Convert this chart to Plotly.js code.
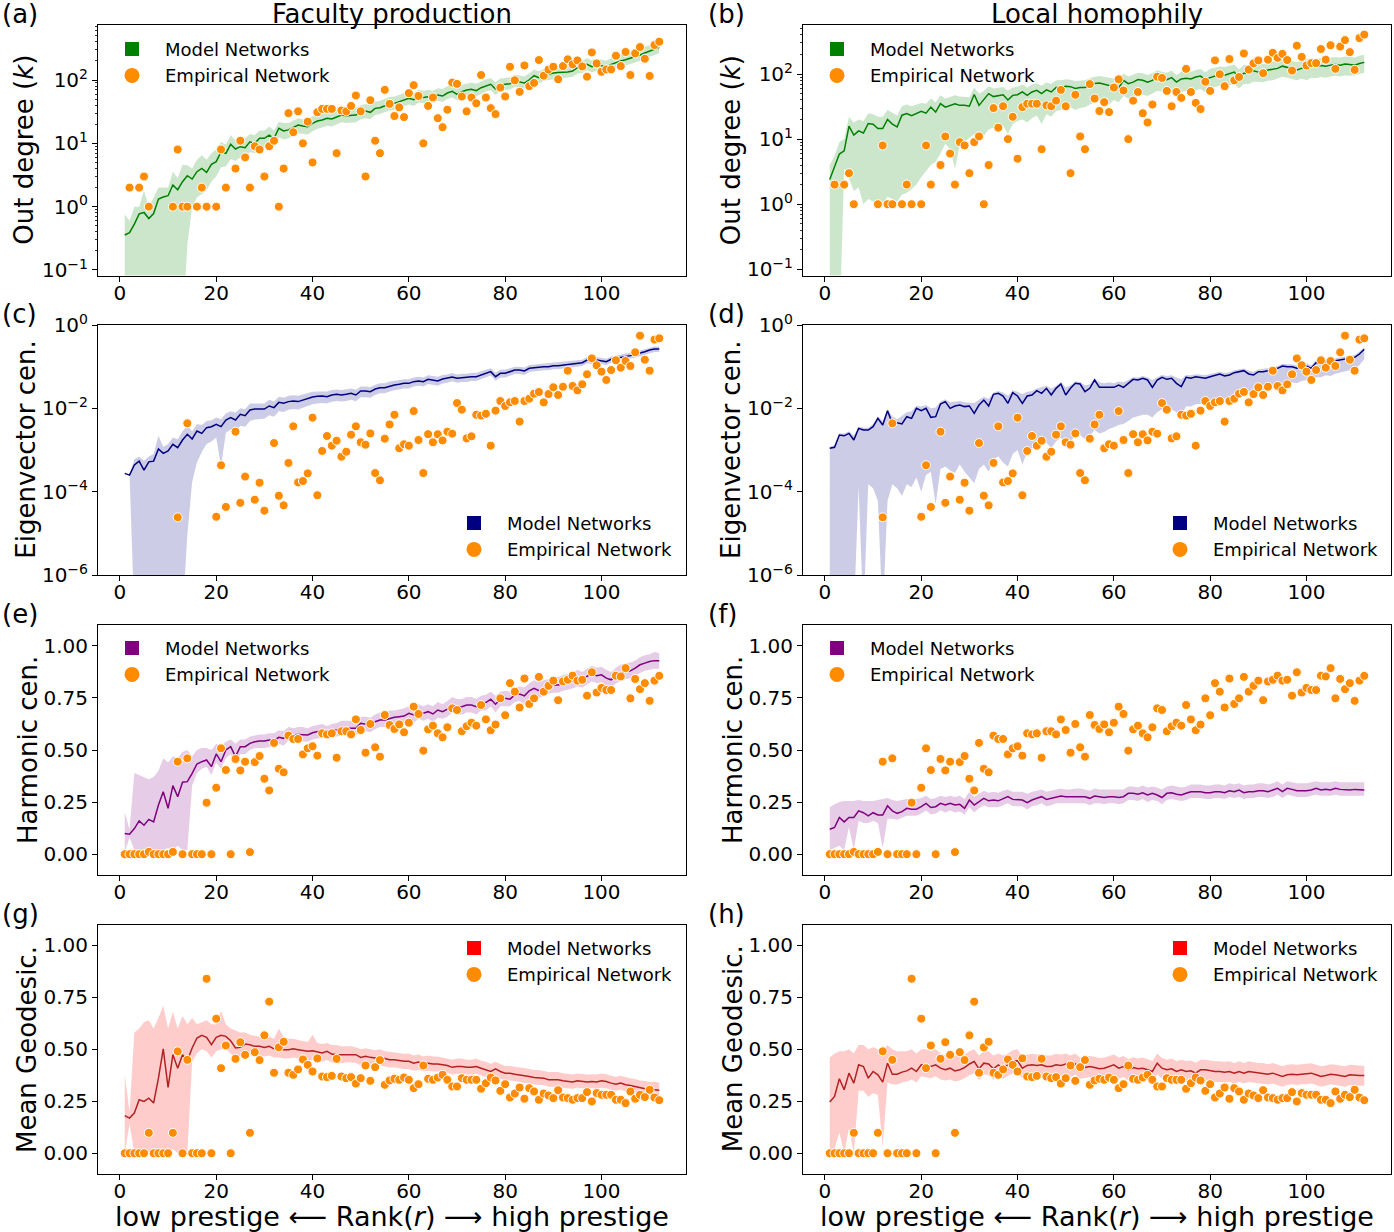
<!DOCTYPE html>
<html><head><meta charset="utf-8">
<script src="https://cdn.plot.ly/plotly-3.0.1.min.js"></script>
<style>html,body{margin:0;padding:0;background:#fff}#chart{width:1394px;height:1232px}</style>
</head><body><div id="chart"></div>
<script>
// ---------- categories ----------
const rank = [];
for (let r = 1; r <= 112; r++) rank.push(r);
const xTickVals = [0, 20, 40, 60, 80, 100];
const xTickText = ['0', '20', '40', '60', '80', '100'];

// ---------- empirical network (same in both columns) ----------
const outDegEmp = [null,2,null,2,3,1,null,null,null,null,
 1,8,1,1,null,1,2,1,null,1,
 8,2,null,4,11,6,2,9,8,3,
 9,11,1,4,30,15,32,10,22,5,
 31,35,35,35,7,33,32,39,57,32,
 3,48,11,7,70,42,27,37,26,62,
 83,56,10,39,53,25,18,34,91,87,
 55,32,53,43,120,53,36,29,76,55,
 162,99,65,170,80,90,207,117,146,162,
 103,166,212,177,204,164,113,273,183,135,
 147,147,242,166,277,120,264,332,217,116,
 357,403];
const eigEmp = [null,null,null,null,null,null,null,null,null,null,
 null,2.42e-5,null,4.37e-3,null,null,null,null,null,2.5e-5,
 4.3e-4,4.3e-5,null,2.75e-3,5.4e-5,2.3e-4,null,6.4e-5,1.64e-4,3.5e-5,
 null,1.47e-3,8.0e-5,4.7e-5,4.9e-4,3.7e-3,1.67e-4,1.8e-4,2.75e-4,5.97e-3,
 8.2e-5,9.5e-4,2.17e-3,1.27e-3,1.67e-3,6.9e-4,9.1e-4,2.33e-3,3.7e-3,1.53e-3,
 1.34e-3,2.5e-3,2.8e-4,1.87e-4,1.87e-3,4.1e-3,7.0e-3,1.1e-3,1.37e-3,1.27e-3,
 8.6e-3,1.74e-3,2.8e-4,2.4e-3,1.53e-3,2.38e-3,1.7e-3,2.75e-3,2.47e-3,1.34e-2,
 9.3e-3,1.9e-3,2.13e-3,7.0e-3,6.7e-3,7.4e-3,1.27e-3,8.8e-3,1.5e-2,1.14e-2,
 1.39e-2,1.5e-2,4.8e-3,1.5e-2,1.7e-2,2.25e-2,2.47e-2,1.39e-2,2.2e-2,3.2e-2,
 2.09e-2,3.3e-2,8.0e-2,3.44e-2,2.7e-2,3.77e-2,6.55e-2,0.158,0.108,0.076,
 0.048,0.083,0.142,0.0946,0.137,0.104,0.221,0.555,0.147,0.080,
 0.445,0.479];
const harmEmp = [0,0,0,0,0,0.011,0,0,0,0,
 0.011,0.444,0,0.46,0,0,0,0.247,0,0.319,
 0.508,0.404,0,0.457,0.402,0.444,0.01,0.442,0.471,0.362,
 0.306,0.534,0.41,0.393,0.569,0.553,0.553,0.479,0.508,0.518,
 0.473,0.58,0.575,0.58,0.463,0.59,0.59,0.575,0.647,0.596,
 0.487,0.625,0.513,0.468,0.668,0.62,0.601,0.623,0.585,0.631,
 0.708,0.673,0.497,0.599,0.617,0.58,0.561,0.609,0.7,0.692,
 0.59,0.614,0.631,0.617,0.716,0.647,0.595,0.622,0.748,0.667,
 0.821,0.78,0.704,0.843,0.721,0.748,0.851,0.78,0.808,0.833,
 0.739,0.829,0.837,0.857,0.833,0.837,0.761,0.873,0.776,0.798,
 0.788,0.788,0.857,0.853,0.893,0.748,0.841,0.792,0.821,0.736,
 0.833,0.856];
const geoEmp = [0,0,0,0,0,0.098,0,0,0,0,
 0.098,0.49,0,0.449,0,0,0,0.839,0,0.647,
 0.409,0.518,0,0.454,0.534,0.473,0.098,0.486,0.448,0.567,
 0.729,0.387,0.509,0.536,0.387,0.377,0.403,0.451,0.425,0.393,
 0.456,0.369,0.366,0.372,0.454,0.369,0.361,0.366,0.335,0.361,
 0.422,0.348,0.414,0.448,0.329,0.35,0.358,0.353,0.364,0.353,
 0.313,0.332,0.422,0.358,0.353,0.364,0.377,0.353,0.321,0.321,
 0.361,0.353,0.353,0.353,0.31,0.337,0.364,0.35,0.3,0.332,
 0.268,0.287,0.316,0.262,0.313,0.297,0.257,0.287,0.278,0.265,
 0.303,0.268,0.265,0.257,0.265,0.265,0.294,0.249,0.289,0.281,
 0.281,0.281,0.257,0.257,0.241,0.297,0.262,0.281,0.27,0.305,
 0.268,0.255];

// ---------- model networks: faculty production (left column) ----------
const odFacMean = [0.357,0.39,0.53,0.77,0.81,0.65,0.78,1.32,1.42,1.49,
 2.2,1.85,2.48,3.08,2.73,3.57,4.03,3.48,4.66,5.14,
 7.39,6.95,9.65,8.14,8.86,8.55,10.6,10.0,12.0,12.0,
 13.5,12.0,17.3,15.7,16.3,17.7,19.5,18.8,18.3,20.7,
 22.5,23.4,24.8,24.2,26.4,28.0,27.3,27.3,28.0,30.9,
 32.4,30.9,35.7,36.6,39.4,41.8,42.8,45.5,48.3,51.4,
 48.9,54.6,53.2,54.6,53.2,58.0,55.9,62.3,66.2,59.4,
 65.4,69.5,71.3,67.9,75.7,81.4,85.5,72.1,83.4,85.5,
 87.5,96.4,94.2,89.7,101,117,109,120,123,129,
 131,132,134,139,157,160,177,162,173,168,
 160,177,190,200,209,220,234,248,267,287,
 313,328];
const odFacHi = [0.75,0.6,1.0,1.0,1.8,1.0,1.4,2.0,2.0,2.0,
 3.6,2.8,4.6,4.5,4.0,5.5,6.5,5.5,7.0,8.0,
 10.5,9.5,13.5,11,12.5,12,14,13.5,16,16,
 18.5,16,22,21,21,23,25,24,24,27,
 29,30,32,31,34,36,35,35,36,40,
 42,40,46,47,50,54,55,58,62,66,
 63,70,68,70,68,74,72,80,84,76,
 84,88,91,87,96,103,108,92,106,108,
 111,122,119,114,128,147,137,151,155,162,
 165,166,169,175,197,201,222,204,217,211,
 201,222,238,251,262,276,293,311,335,360,
 390,410];
const odFacLo = [0.01,0.01,0.01,0.01,0.01,0.01,0.01,0.01,0.01,0.01,
 0.01,0.01,0.01,0.25,1.0,1.4,1.6,1.8,2.5,3.0,
 4.2,4.3,5.6,5.3,6.0,5.8,7.3,7.0,8.5,8.6,
 9.6,8.6,12.5,11.5,12.0,13.0,14.5,14.0,13.8,15.5,
 17,17.8,19,18.5,20,21.5,21,21,21.5,24,
 25,24,28,29,31,33,34,36,38.5,41,
 39,44,43,44,43,47,45,50,53,48,
 53,56,58,55,61,66,69,58,68,69,
 71,78,76,73,82,95,88,97,100,104,
 106,107,109,113,127,129,143,131,140,136,
 130,143,154,162,169,178,189,200,216,232,
 252,265];
const eigFacMean = [2.75e-4,2.5e-4,4.4e-4,5.4e-4,3.3e-4,5.2e-4,5.4e-4,1.06e-3,8.3e-4,9.5e-4,
 1.37e-3,1.14e-3,1.74e-3,2.38e-3,1.84e-3,2.86e-3,2.5e-3,3.44e-3,3.63e-3,4.13e-3,
 3.63e-3,5.25e-3,5.97e-3,5.25e-3,7.18e-3,6.67e-3,9.1e-3,9.6e-3,9.6e-3,9.6e-3,
 0.0114,0.0104,0.0139,0.0132,0.0145,0.015,0.0145,0.0158,0.0174,0.0187,
 0.0194,0.0198,0.0191,0.0209,0.0217,0.0209,0.0217,0.0229,0.0209,0.026,
 0.026,0.0251,0.0291,0.0313,0.0313,0.0344,0.0363,0.0377,0.0398,0.0398,
 0.0437,0.0453,0.0437,0.0497,0.0479,0.0453,0.0506,0.0525,0.0565,0.0525,
 0.0545,0.0545,0.0575,0.0575,0.063,0.0692,0.0759,0.0575,0.0692,0.0692,
 0.0759,0.0832,0.0832,0.0787,0.0912,0.0946,0.0946,0.1,0.1,0.1057,
 0.1057,0.1096,0.1117,0.1138,0.1202,0.1247,0.1445,0.1368,0.1445,0.1368,
 0.1318,0.15,0.158,0.164,0.171,0.184,0.198,0.209,0.229,0.251,
 0.265,0.265];
const eigFacHi = [2.75e-4,2.5e-4,6e-4,7e-4,5.5e-4,7e-4,8e-4,2.2e-3,1.2e-3,1.4e-3,
 2e-3,1.8e-3,2.8e-3,3.8e-3,2.8e-3,4.2e-3,4e-3,5e-3,5.2e-3,6e-3,
 5.5e-3,7.5e-3,8.5e-3,7.8e-3,1.0e-2,9.5e-3,1.3e-2,1.3e-2,1.35e-2,1.3e-2,
 0.016,0.0145,0.019,0.018,0.02,0.0205,0.02,0.0215,0.024,0.025,
 0.0255,0.026,0.0255,0.0275,0.0285,0.0275,0.0285,0.03,0.028,0.0335,
 0.0335,0.0325,0.037,0.04,0.04,0.044,0.046,0.048,0.05,0.05,
 0.055,0.057,0.055,0.062,0.06,0.057,0.063,0.065,0.07,0.065,
 0.068,0.068,0.071,0.071,0.078,0.085,0.092,0.071,0.085,0.085,
 0.092,0.1,0.1,0.095,0.11,0.113,0.113,0.119,0.119,0.126,
 0.126,0.13,0.132,0.135,0.142,0.147,0.17,0.161,0.17,0.161,
 0.155,0.176,0.185,0.192,0.2,0.215,0.23,0.243,0.265,0.29,
 0.305,0.305];
const eigFacLo = [2.75e-4,2.5e-4,1e-7,1e-7,1e-7,1e-7,1e-7,1e-7,1e-7,1e-7,
 1e-7,1e-7,1e-7,9e-6,1.7e-4,5e-4,9e-4,1.4e-3,1.6e-3,2e-3,
 4e-4,2.6e-3,3.1e-3,2.8e-3,3.8e-3,3.6e-3,5e-3,5.4e-3,5.4e-3,5.6e-3,
 6.8e-3,6.3e-3,8.5e-3,8.2e-3,9.3e-3,9.6e-3,9.4e-3,1.04e-2,1.15e-2,1.25e-2,
 0.013,0.0135,0.013,0.0143,0.015,0.0145,0.015,0.016,0.0147,0.0185,
 0.0185,0.018,0.021,0.023,0.023,0.0255,0.027,0.0285,0.03,0.03,
 0.0335,0.035,0.0335,0.0385,0.037,0.035,0.0395,0.041,0.0445,0.041,
 0.043,0.043,0.0455,0.0455,0.05,0.055,0.061,0.046,0.055,0.055,
 0.061,0.067,0.067,0.063,0.074,0.077,0.077,0.082,0.082,0.087,
 0.087,0.09,0.092,0.094,0.1,0.104,0.121,0.114,0.121,0.114,
 0.11,0.126,0.133,0.138,0.144,0.155,0.167,0.177,0.194,0.213,
 0.225,0.225];
const harmFacMean = [0.099,0.096,0.123,0.16,0.139,0.167,0.155,0.236,0.3,0.22,
 0.329,0.276,0.345,0.348,0.388,0.433,0.444,0.452,0.42,0.481,
 0.444,0.5,0.516,0.468,0.516,0.516,0.532,0.54,0.543,0.543,
 0.548,0.545,0.561,0.556,0.577,0.572,0.575,0.575,0.572,0.583,
 0.588,0.593,0.583,0.593,0.596,0.604,0.604,0.604,0.604,0.628,
 0.625,0.62,0.636,0.644,0.644,0.652,0.657,0.66,0.663,0.676,
 0.668,0.684,0.676,0.684,0.673,0.692,0.684,0.696,0.716,0.705,
 0.708,0.716,0.716,0.708,0.724,0.728,0.744,0.72,0.744,0.748,
 0.744,0.764,0.769,0.76,0.784,0.796,0.785,0.796,0.804,0.8125,
 0.8125,0.82,0.824,0.832,0.845,0.837,0.853,0.869,0.856,0.861,
 0.845,0.837,0.856,0.869,0.877,0.88,0.893,0.909,0.917,0.925,
 0.929,0.928];
const harmFacHi = [0.2,0.12,0.39,0.38,0.37,0.36,0.37,0.4,0.46,0.44,
 0.47,0.46,0.49,0.5,0.47,0.5,0.51,0.51,0.5,0.53,
 0.52,0.54,0.55,0.53,0.55,0.55,0.565,0.57,0.575,0.575,
 0.58,0.58,0.595,0.59,0.61,0.605,0.61,0.61,0.605,0.615,
 0.62,0.625,0.615,0.625,0.63,0.64,0.64,0.64,0.64,0.66,
 0.66,0.655,0.67,0.68,0.68,0.69,0.69,0.695,0.7,0.71,
 0.705,0.72,0.71,0.72,0.71,0.73,0.72,0.735,0.755,0.745,
 0.745,0.755,0.755,0.745,0.76,0.765,0.78,0.76,0.78,0.785,
 0.78,0.8,0.805,0.8,0.82,0.835,0.825,0.835,0.84,0.85,
 0.85,0.86,0.865,0.87,0.885,0.875,0.89,0.905,0.895,0.9,
 0.885,0.875,0.895,0.91,0.915,0.92,0.93,0.945,0.955,0.96,
 0.97,0.965];
const harmFacLo = [0.01,0.08,0.02,0.02,0.02,0.02,0.02,0.02,0.02,0.03,
 0.02,0.04,0.02,0.02,0.33,0.39,0.41,0.42,0.38,0.44,
 0.41,0.46,0.48,0.43,0.48,0.48,0.5,0.51,0.51,0.51,
 0.515,0.51,0.53,0.52,0.545,0.54,0.54,0.54,0.54,0.55,
 0.555,0.56,0.55,0.56,0.565,0.57,0.57,0.57,0.57,0.595,
 0.59,0.585,0.6,0.61,0.61,0.615,0.62,0.625,0.63,0.64,
 0.63,0.65,0.64,0.65,0.635,0.655,0.65,0.66,0.68,0.67,
 0.67,0.68,0.68,0.67,0.69,0.69,0.71,0.68,0.71,0.71,
 0.71,0.73,0.735,0.72,0.75,0.76,0.75,0.76,0.77,0.775,
 0.775,0.785,0.79,0.795,0.805,0.8,0.815,0.83,0.82,0.825,
 0.81,0.8,0.82,0.83,0.84,0.845,0.855,0.87,0.88,0.885,
 0.89,0.89];
const geoFacMean = [0.181,0.169,0.193,0.257,0.249,0.265,0.241,0.361,0.502,0.316,
 0.474,0.409,0.474,0.445,0.506,0.554,0.567,0.557,0.522,0.557,
 0.567,0.562,0.541,0.506,0.509,0.525,0.522,0.514,0.514,0.509,
 0.514,0.502,0.506,0.498,0.498,0.502,0.498,0.493,0.49,0.493,
 0.486,0.482,0.49,0.477,0.474,0.474,0.477,0.477,0.474,0.461,
 0.466,0.461,0.458,0.461,0.454,0.45,0.45,0.445,0.442,0.442,
 0.433,0.438,0.429,0.433,0.429,0.429,0.425,0.422,0.413,0.417,
 0.417,0.413,0.413,0.417,0.409,0.401,0.393,0.406,0.393,0.385,
 0.385,0.38,0.377,0.374,0.369,0.364,0.364,0.361,0.353,0.353,
 0.353,0.348,0.345,0.342,0.348,0.345,0.342,0.345,0.342,0.348,
 0.345,0.337,0.332,0.337,0.329,0.326,0.321,0.313,0.31,0.305,
 0.305,0.303];
const geoFacHi = [0.38,0.2,0.58,0.6,0.63,0.64,0.6,0.65,0.71,0.6,
 0.68,0.6,0.66,0.62,0.65,0.62,0.63,0.64,0.62,0.62,
 0.685,0.62,0.6,0.59,0.58,0.58,0.57,0.565,0.56,0.555,
 0.56,0.55,0.6,0.56,0.55,0.55,0.545,0.54,0.535,0.57,
 0.53,0.525,0.53,0.52,0.52,0.515,0.515,0.515,0.51,0.5,
 0.505,0.5,0.495,0.5,0.49,0.488,0.485,0.48,0.478,0.48,
 0.47,0.475,0.465,0.47,0.465,0.465,0.46,0.458,0.45,0.455,
 0.455,0.45,0.45,0.455,0.445,0.44,0.43,0.44,0.43,0.42,
 0.42,0.415,0.412,0.41,0.405,0.4,0.4,0.395,0.39,0.39,
 0.39,0.385,0.38,0.378,0.383,0.38,0.378,0.38,0.378,0.383,
 0.38,0.372,0.368,0.372,0.365,0.36,0.357,0.35,0.347,0.342,
 0.342,0.34];
const geoFacLo = [0,0.14,0,0,0,0,0,0,0,0,
 0.02,0,0,0,0.44,0.48,0.5,0.49,0.46,0.49,
 0.5,0.5,0.48,0.46,0.465,0.48,0.475,0.47,0.47,0.465,
 0.47,0.46,0.46,0.455,0.455,0.46,0.455,0.45,0.447,0.45,
 0.444,0.44,0.448,0.436,0.433,0.433,0.437,0.437,0.434,0.422,
 0.428,0.422,0.42,0.422,0.416,0.412,0.412,0.408,0.405,0.405,
 0.396,0.402,0.393,0.397,0.393,0.393,0.39,0.387,0.378,0.382,
 0.382,0.378,0.378,0.382,0.374,0.366,0.358,0.372,0.358,0.35,
 0.35,0.346,0.343,0.34,0.335,0.33,0.33,0.327,0.32,0.32,
 0.32,0.315,0.312,0.31,0.315,0.312,0.31,0.312,0.31,0.315,
 0.312,0.305,0.3,0.305,0.297,0.294,0.29,0.283,0.28,0.275,
 0.275,0.273];

// ---------- model networks: local homophily (right column) ----------
const odHomMean = [2.4,3.7,5.9,6.6,15.8,11.5,13.4,12.4,17.4,16.9,
 14.5,14.5,20,17,15.4,23.3,24.7,23,24.7,26.8,
 25,31,26,35.2,31,33,35,33,33,32,
 48.4,33,40.6,50,45,47,48,40,47,48,
 53,47,53,56,50,57,53,62,62,65,
 64,60,62,62,67,71.5,73,70,66,65,
 61,80,71,75,82,80,75,80,90,85,
 82,88,75,84,86,84,90,93,82,88,
 93,98,96,102,107,88,103,103,112,107,
 107,115,117,122,132,126,122,115,122,129,
 132,129,135,132,137,140,137,142,140,137,
 145,151];
const odHomHi = [4.0,5.5,9,10,22,18,20,19,25,24,
 22,22,28,25,23,32,34,32,34,36,
 35,42,37,47,42,45,47,45,45,44,
 62,50,55,65,60,62,63,56,62,64,
 69,62,69,72,66,74,70,80,80,83,
 82,78,80,80,86,91,93,90,86,85,
 80,102,92,97,105,103,97,103,114,108,
 105,113,97,108,110,108,115,119,106,120,
 125,131,128,135,140,118,137,136,147,141,
 142,150,153,160,172,165,160,152,162,170,
 173,170,177,173,180,183,180,186,183,180,
 190,198];
const odHomLo = [0.01,0.01,0.01,3.5,2.5,1.6,1.8,1.0,1.2,1.1,
 0.9,1.0,1.3,1.2,1.1,1.4,1.5,1.7,2.0,2.6,
 3.2,4.0,4.5,6.0,8.5,7,3.5,8,9,10.5,
 12,9,11,14,15,15,16,12,17,19,
 20,18,21,23,17,24,22,27,28,32,
 31,28,30,31,34,37,38,36,34,40,
 37,46,42,45,49,48,46,50,55,54,
 51,55,47,53,55,54,57,59,52,60,
 63,66,64,68,71,60,70,70,76,76,
 75,79,80,85,91,88,85,80,85,80,
 88,86,90,88,92,94,92,95,94,95,
 100,105];
const eigHomMean = [1.1e-3,1.16e-3,2.29e-3,2.19e-3,2.51e-3,1.74e-3,3.31e-3,3.02e-3,3.02e-3,3.63e-3,
 5.75e-3,3.98e-3,8.79e-3,4.37e-3,4.53e-3,4.21e-3,6.31e-3,5.75e-3,1.0e-2,8.79e-3,
 1.0e-2,6.08e-3,6.31e-3,1.27e-2,1.45e-2,1.0e-2,1.14e-2,1.2e-2,1.1e-2,1.14e-2,
 7.59e-3,1.2e-2,1.58e-2,1.14e-2,2.17e-2,2.29e-2,1.98e-2,1.32e-2,2.38e-2,1.98e-2,
 1.32e-2,1.98e-2,2.09e-2,2.65e-2,2.29e-2,3.02e-2,2.09e-2,3.02e-2,3.84e-2,2.09e-2,
 3.02e-2,3.98e-2,3.84e-2,2.51e-2,3.02e-2,4.79e-2,3.19e-2,3.19e-2,3.31e-2,3.19e-2,
 3.63e-2,3.19e-2,3.98e-2,4.97e-2,4.79e-2,5.25e-2,4.79e-2,3.19e-2,4.79e-2,5.55e-2,
 4.97e-2,5.25e-2,3.98e-2,3.31e-2,5.55e-2,5.25e-2,5.75e-2,5.55e-2,5.25e-2,5.75e-2,
 6.31e-2,6.67e-2,5.97e-2,6.31e-2,7.18e-2,7.59e-2,8.02e-2,6.67e-2,6.31e-2,7.59e-2,
 7.59e-2,8.02e-2,8.32e-2,9.12e-2,0.104,0.1,0.1,9.12e-2,0.1,0.104,
 9.12e-2,0.125,0.12,0.132,0.125,0.139,0.145,0.15,0.158,0.167,
 0.201,0.261];
const eigHomHi = [1.2e-3,1.3e-3,2.5e-3,2.5e-3,2.8e-3,2.2e-3,3.6e-3,3.4e-3,3.4e-3,4.2e-3,
 6.5e-3,5.0e-3,9.5e-3,6.5e-3,5.5e-3,6.5e-3,8.0e-3,8.5e-3,1.15e-2,1.1e-2,
 1.2e-2,1.0e-2,1.05e-2,1.45e-2,1.65e-2,1.4e-2,1.45e-2,1.5e-2,1.4e-2,1.4e-2,
 1.35e-2,1.6e-2,1.9e-2,1.7e-2,2.4e-2,2.6e-2,2.4e-2,2.0e-2,2.7e-2,2.5e-2,
 2.2e-2,2.5e-2,2.6e-2,3.0e-2,3.2e-2,3.5e-2,3.0e-2,3.5e-2,4.3e-2,3.2e-2,
 3.6e-2,4.4e-2,4.3e-2,3.6e-2,3.8e-2,5.3e-2,4.2e-2,4.0e-2,4.2e-2,4.0e-2,
 4.4e-2,4.2e-2,4.8e-2,5.6e-2,5.5e-2,6.0e-2,5.6e-2,4.8e-2,5.6e-2,6.3e-2,
 6.0e-2,6.2e-2,5.5e-2,5.0e-2,6.3e-2,6.2e-2,6.6e-2,6.5e-2,6.3e-2,6.7e-2,
 7.2e-2,7.6e-2,7.0e-2,7.3e-2,8.2e-2,8.6e-2,9.0e-2,8.0e-2,7.6e-2,8.6e-2,
 8.8e-2,9.2e-2,9.6e-2,0.104,0.117,0.114,0.114,0.106,0.115,0.12,
 0.108,0.142,0.137,0.15,0.143,0.158,0.165,0.172,0.18,0.19,
 0.23,0.29];
const eigHomLo = [1e-7,1e-7,1e-7,1e-7,1e-7,1e-7,1.3e-4,1e-7,1.5e-4,1.2e-4,
 6e-5,1e-7,6e-5,1.5e-4,1.2e-4,8e-5,1.5e-4,1.3e-4,2.2e-4,1.0e-4,
 2.5e-4,3.0e-4,5e-5,3.5e-4,4.0e-4,3.2e-4,2.8e-4,4.5e-4,3.0e-4,2.2e-4,
 1.6e-4,3.5e-4,4.5e-4,3.0e-4,6e-4,7e-4,5e-4,4e-4,8e-4,1.0e-3,
 4.5e-4,9e-4,1.1e-3,1.3e-3,1.4e-3,1.5e-3,1.1e-3,1.6e-3,2.0e-3,1.3e-3,
 1.6e-3,2.2e-3,2.3e-3,1.8e-3,2.2e-3,3.0e-3,2.5e-3,2.7e-3,3.2e-3,3.5e-3,
 4.0e-3,4.2e-3,5.0e-3,6.0e-3,6.5e-3,7.0e-3,7.0e-3,6.0e-3,8.0e-3,9.5e-3,
 9.0e-3,9.5e-3,8.0e-3,7.0e-3,1.1e-2,1.1e-2,1.25e-2,1.3e-2,1.3e-2,1.5e-2,
 1.65e-2,1.8e-2,1.7e-2,1.9e-2,2.1e-2,2.3e-2,2.5e-2,2.2e-2,2.2e-2,2.5e-2,
 2.6e-2,2.8e-2,3.0e-2,3.3e-2,3.8e-2,4.0e-2,4.2e-2,4.0e-2,4.5e-2,4.8e-2,
 4.4e-2,5.6e-2,5.6e-2,6.2e-2,6.0e-2,6.8e-2,7.2e-2,7.6e-2,8.2e-2,8.8e-2,
 0.11,0.15];
const harmHomMean = [0.12,0.128,0.176,0.155,0.176,0.176,0.208,0.199,0.184,0.199,
 0.188,0.188,0.232,0.208,0.196,0.204,0.22,0.216,0.216,0.228,
 0.244,0.224,0.228,0.244,0.236,0.244,0.236,0.239,0.22,0.26,
 0.236,0.252,0.268,0.256,0.26,0.256,0.268,0.276,0.263,0.263,
 0.26,0.247,0.26,0.268,0.276,0.263,0.268,0.276,0.279,0.276,
 0.276,0.279,0.279,0.276,0.268,0.279,0.276,0.272,0.276,0.276,
 0.272,0.276,0.292,0.292,0.288,0.295,0.284,0.292,0.284,0.272,
 0.292,0.295,0.288,0.284,0.292,0.3,0.3,0.3,0.295,0.295,
 0.3,0.3,0.295,0.304,0.3,0.308,0.295,0.3,0.3,0.304,
 0.304,0.3,0.308,0.316,0.3,0.316,0.311,0.304,0.304,0.304,
 0.308,0.316,0.308,0.311,0.308,0.316,0.311,0.308,0.308,0.311,
 0.308,0.308];
const harmHomHi = [0.225,0.24,0.25,0.255,0.255,0.255,0.26,0.255,0.255,0.255,
 0.26,0.265,0.27,0.26,0.255,0.26,0.265,0.265,0.265,0.27,
 0.28,0.265,0.27,0.28,0.275,0.28,0.275,0.28,0.265,0.3,
 0.275,0.29,0.305,0.295,0.3,0.295,0.305,0.31,0.3,0.3,
 0.3,0.29,0.3,0.305,0.31,0.3,0.305,0.31,0.315,0.31,
 0.31,0.315,0.315,0.31,0.305,0.315,0.31,0.31,0.31,0.31,
 0.31,0.31,0.325,0.325,0.32,0.33,0.32,0.325,0.32,0.31,
 0.325,0.33,0.325,0.32,0.325,0.335,0.335,0.335,0.33,0.33,
 0.335,0.335,0.33,0.34,0.335,0.34,0.33,0.335,0.335,0.34,
 0.34,0.335,0.34,0.35,0.335,0.35,0.345,0.34,0.34,0.34,
 0.345,0.35,0.345,0.345,0.345,0.35,0.345,0.345,0.345,0.345,
 0.345,0.345];
const harmHomLo = [0.02,0.03,0.04,0.02,0.13,0.02,0.16,0.15,0.15,0.16,
 0.15,0.03,0.17,0.17,0.165,0.175,0.185,0.185,0.185,0.195,
 0.21,0.19,0.195,0.21,0.2,0.21,0.2,0.205,0.19,0.225,
 0.2,0.22,0.235,0.225,0.225,0.225,0.235,0.245,0.23,0.23,
 0.23,0.215,0.23,0.235,0.245,0.23,0.235,0.245,0.245,0.245,
 0.245,0.245,0.245,0.245,0.235,0.245,0.245,0.24,0.245,0.245,
 0.24,0.245,0.26,0.26,0.255,0.265,0.25,0.26,0.255,0.24,
 0.26,0.265,0.26,0.255,0.26,0.27,0.27,0.27,0.265,0.265,
 0.27,0.27,0.265,0.275,0.27,0.275,0.265,0.27,0.27,0.275,
 0.275,0.27,0.275,0.285,0.27,0.285,0.28,0.275,0.275,0.275,
 0.28,0.285,0.28,0.28,0.28,0.285,0.28,0.28,0.28,0.28,
 0.28,0.28];
const geoHomMean = [0.246,0.273,0.358,0.305,0.385,0.337,0.425,0.417,0.361,0.393,
 0.377,0.342,0.433,0.38,0.38,0.39,0.396,0.409,0.393,0.425,
 0.422,0.417,0.425,0.409,0.401,0.409,0.396,0.401,0.412,0.429,
 0.441,0.406,0.433,0.429,0.406,0.425,0.409,0.425,0.441,0.445,
 0.409,0.422,0.425,0.422,0.425,0.417,0.417,0.425,0.422,0.429,
 0.417,0.429,0.409,0.412,0.417,0.412,0.406,0.409,0.417,0.425,
 0.409,0.417,0.401,0.412,0.406,0.409,0.401,0.393,0.433,0.409,
 0.401,0.406,0.393,0.401,0.393,0.396,0.385,0.401,0.401,0.396,
 0.393,0.393,0.39,0.393,0.385,0.393,0.385,0.393,0.39,0.385,
 0.385,0.38,0.385,0.377,0.369,0.377,0.38,0.377,0.38,0.38,
 0.385,0.377,0.369,0.374,0.38,0.377,0.374,0.369,0.377,0.374,
 0.374,0.374];
const geoHomHi = [0.46,0.48,0.49,0.49,0.5,0.48,0.52,0.52,0.5,0.51,
 0.5,0.49,0.52,0.5,0.49,0.49,0.49,0.5,0.48,0.5,
 0.5,0.49,0.5,0.48,0.47,0.475,0.47,0.47,0.475,0.49,
 0.5,0.47,0.49,0.49,0.47,0.48,0.47,0.48,0.495,0.5,
 0.465,0.475,0.478,0.475,0.478,0.47,0.47,0.478,0.475,0.48,
 0.47,0.48,0.46,0.465,0.468,0.464,0.458,0.46,0.468,0.475,
 0.46,0.467,0.452,0.462,0.456,0.46,0.452,0.444,0.48,0.458,
 0.45,0.455,0.443,0.45,0.443,0.446,0.435,0.45,0.45,0.445,
 0.442,0.442,0.44,0.442,0.434,0.442,0.434,0.442,0.438,0.434,
 0.434,0.428,0.434,0.426,0.418,0.426,0.428,0.426,0.428,0.428,
 0.433,0.426,0.418,0.422,0.428,0.425,0.422,0.418,0.425,0.422,
 0.422,0.42];
const geoHomLo = [0,0.02,0.1,0,0.12,0,0.3,0.3,0.27,0.29,
 0.28,0.03,0.34,0.33,0.33,0.34,0.345,0.355,0.34,0.37,
 0.365,0.36,0.37,0.355,0.35,0.355,0.345,0.35,0.36,0.375,
 0.385,0.352,0.38,0.375,0.355,0.372,0.358,0.372,0.385,0.39,
 0.358,0.37,0.373,0.37,0.373,0.366,0.366,0.373,0.37,0.378,
 0.366,0.378,0.358,0.362,0.366,0.362,0.355,0.358,0.366,0.373,
 0.358,0.366,0.35,0.362,0.355,0.358,0.35,0.343,0.38,0.358,
 0.35,0.355,0.343,0.35,0.343,0.346,0.335,0.35,0.35,0.346,
 0.343,0.343,0.34,0.343,0.335,0.343,0.335,0.343,0.34,0.335,
 0.335,0.33,0.335,0.328,0.32,0.328,0.332,0.328,0.332,0.332,
 0.335,0.328,0.32,0.325,0.332,0.328,0.325,0.32,0.328,0.325,
 0.325,0.325];

// ---------- tick labels ----------
const MINUS = '\u2212';
const degTickVals = [0.1, 1, 10, 100];
const degTickText = ['10<sup>' + MINUS + '1</sup>', '10<sup>0</sup>', '10<sup>1</sup>', '10<sup>2</sup>'];
const eigTickVals = [1e-6, 1e-4, 1e-2, 1];
const eigTickText = ['10<sup>' + MINUS + '6</sup>', '10<sup>' + MINUS + '4</sup>', '10<sup>' + MINUS + '2</sup>', '10<sup>0</sup>'];
const linTickVals = [0, 0.25, 0.5, 0.75, 1];
const linTickText = ['0.00', '0.25', '0.50', '0.75', '1.00'];
const colTitles = ['Faculty production', 'Local homophily'];
const panelLabels = ['(a)', '(b)', '(c)', '(d)', '(e)', '(f)', '(g)', '(h)'];
const yTitles = ['Out degree (<i>k</i>)', 'Eigenvector cen.', 'Harmonic cen.', 'Mean Geodesic.'];
const xTitle = 'low prestige \u27F5 Rank(<i>r</i>) \u27F6 high prestige';
const legendNames = ['Model Networks', 'Empirical Network'];

// length check
const allArrays = {outDegEmp, eigEmp, harmEmp, geoEmp, odFacMean, odFacHi, odFacLo, eigFacMean, eigFacHi, eigFacLo,
  harmFacMean, harmFacHi, harmFacLo, geoFacMean, geoFacHi, geoFacLo, odHomMean, odHomHi, odHomLo,
  eigHomMean, eigHomHi, eigHomLo, harmHomMean, harmHomHi, harmHomLo, geoHomMean, geoHomHi, geoHomLo};
for (const k in allArrays) { if (allArrays[k].length !== 112) throw new Error(k + ' has length ' + allArrays[k].length); }

// ---------- layout geometry (pixels) ----------
const W = 1394, H = 1232;
const cols = [[98, 686], [803, 1391]];
const rows = [[25, 275.5], [325, 575], [625, 875], [924.5, 1174]];
const ORANGE = '#ff8c00';
const styles = [
  {line: '#008000', band: 'rgba(0,128,0,0.2)', leg: '#008000'},
  {line: '#000080', band: 'rgba(0,0,128,0.2)', leg: '#000080'},
  {line: '#800080', band: 'rgba(128,0,128,0.2)', leg: '#800080'},
  {line: '#b22222', band: 'rgba(255,0,0,0.2)', leg: '#ff0000'}
];
const rowAxis = [
  {type: 'log', tv: degTickVals, tt: degTickText},
  {type: 'log', tv: eigTickVals, tt: eigTickText, range: [-6, 0]},
  {type: 'linear', tv: linTickVals, tt: linTickText, range: [-0.1, 1.1]},
  {type: 'linear', tv: linTickVals, tt: linTickText, range: [-0.1, 1.1]}
];
const panels = [
  {row: 0, col: 0, emp: outDegEmp, mean: odFacMean, lo: odFacLo, hi: odFacHi, yr: [-1.087, 2.869], leg: [99, 30.8], yt: 24.5},
  {row: 0, col: 1, emp: outDegEmp, mean: odHomMean, lo: odHomLo, hi: odHomHi, yr: [-1.095, 2.753], leg: [804, 30.8], yt: 731},
  {row: 1, col: 0, emp: eigEmp, mean: eigFacMean, lo: eigFacLo, hi: eigFacHi, leg: [441, 504.8], yt: 25.7},
  {row: 1, col: 1, emp: eigEmp, mean: eigHomMean, lo: eigHomLo, hi: eigHomHi, leg: [1147, 504.8], yt: 731},
  {row: 2, col: 0, emp: harmEmp, mean: harmFacMean, lo: harmFacLo, hi: harmFacHi, leg: [99, 629.8], yt: 28},
  {row: 2, col: 1, emp: harmEmp, mean: harmHomMean, lo: harmHomLo, hi: harmHomHi, leg: [804, 629.8], yt: 733},
  {row: 3, col: 0, emp: geoEmp, mean: geoFacMean, lo: geoFacLo, hi: geoFacHi, leg: [441, 929.8], yt: 26.8},
  {row: 3, col: 1, emp: geoEmp, mean: geoHomMean, lo: geoHomLo, hi: geoHomHi, leg: [1147, 929.8], yt: 733}
];

// minor ticks for out-degree log axes
const degMinor = [];
[0.1, 1, 10, 100].forEach(d => { for (let m = 2; m <= 9; m++) degMinor.push(m * d); });

const common = {
  showline: true, mirror: true, linecolor: '#000', linewidth: 1,
  ticks: 'outside', ticklen: 5, tickwidth: 1, tickcolor: '#000',
  showgrid: false, zeroline: false, fixedrange: true,
  tickfont: {size: 20, color: '#000', family: 'DejaVu Sans'}
};

const traces = [];
const layout = {
  width: W, height: H, margin: {l: 0, r: 0, t: 0, b: 0, pad: 0},
  paper_bgcolor: '#fff', plot_bgcolor: '#fff',
  font: {family: 'DejaVu Sans, sans-serif', size: 20, color: '#000'},
  showlegend: true, annotations: []
};

panels.forEach((p, i) => {
  const n = i + 1, sfx = n > 1 ? String(n) : '';
  const xa = 'x' + sfx, ya = 'y' + sfx, lg = 'legend' + sfx;
  const st = styles[p.row], ra = rowAxis[p.row];
  const col = cols[p.col], row = rows[p.row];

  traces.push({x: rank, y: p.lo, xaxis: xa, yaxis: ya, mode: 'lines', line: {width: 0, color: st.band},
    showlegend: false, hoverinfo: 'skip'});
  traces.push({x: rank, y: p.hi, xaxis: xa, yaxis: ya, mode: 'lines', line: {width: 0, color: st.band},
    fill: 'tonexty', fillcolor: st.band, showlegend: false, hoverinfo: 'skip'});
  traces.push({x: rank, y: p.mean, xaxis: xa, yaxis: ya, mode: 'lines', line: {width: 1.5, color: st.line},
    showlegend: false});
  traces.push({x: rank, y: p.emp, xaxis: xa, yaxis: ya, mode: 'markers',
    marker: {size: 9, color: ORANGE, line: {color: '#fff', width: 1}}, showlegend: false});
  traces.push({x: [null], y: [null], xaxis: xa, yaxis: ya, mode: 'markers', name: legendNames[0], legend: lg,
    marker: {symbol: 'square', size: 14, color: st.leg}, showlegend: true});
  traces.push({x: [null], y: [null], xaxis: xa, yaxis: ya, mode: 'markers', name: legendNames[1], legend: lg,
    marker: {symbol: 'circle', size: 15, color: ORANGE}, showlegend: true});

  const xax = Object.assign({}, common, {
    domain: [col[0] / W, col[1] / W], anchor: ya, range: [-4.55, 117.55],
    tickmode: 'array', tickvals: xTickVals, ticktext: xTickText, ticklabelstandoff: -6
  });
  if (p.row === 3) {
    xax.title = {text: xTitle, font: {size: 27, color: '#000'}, standoff: 7};
  }
  layout['xaxis' + sfx] = xax;

  const yax = Object.assign({}, common, {
    domain: [1 - row[1] / H, 1 - row[0] / H], anchor: xa, type: ra.type,
    range: p.yr || ra.range, tickmode: 'array', tickvals: ra.tv, ticktext: ra.tt
  });
  if (p.row === 0) {
    yax.minor = {tickmode: 'array', tickvals: degMinor, ticks: 'outside', ticklen: 2.5, tickwidth: 0.8, tickcolor: '#000', showgrid: false};
  }
  layout['yaxis' + sfx] = yax;

  layout[lg] = {
    x: p.leg[0] / W, y: 1 - p.leg[1] / H, xanchor: 'left', yanchor: 'top',
    bgcolor: 'rgba(0,0,0,0)', borderwidth: 0, itemwidth: 56,
    font: {size: 18, color: '#000', family: 'DejaVu Sans'}, traceorder: 'normal'
  };

  // panel label
  layout.annotations.push({text: panelLabels[i], xref: 'paper', yref: 'paper',
    x: (p.col ? 706 : 0) / W, y: 1 - (row[0] + 6) / H, xanchor: 'left', yanchor: 'bottom',
    showarrow: false, font: {size: 26, color: '#000'}});
  // y title
  layout.annotations.push({text: yTitles[p.row], xref: 'paper', yref: 'paper',
    x: p.yt / W, y: 1 - (row[0] + row[1]) / 2 / H, xanchor: 'center', yanchor: 'middle',
    textangle: -90, showarrow: false, font: {size: 26, color: '#000'}});
});

// column titles
colTitles.forEach((t, c) => {
  layout.annotations.push({text: t, xref: 'paper', yref: 'paper',
    x: (cols[c][0] + cols[c][1]) / 2 / W, y: 1 - 31 / H, xanchor: 'center', yanchor: 'bottom',
    showarrow: false, font: {size: 26, color: '#000'}});
});

Plotly.newPlot('chart', traces, layout, {staticPlot: true, displayModeBar: false});
</script>
</body></html>
